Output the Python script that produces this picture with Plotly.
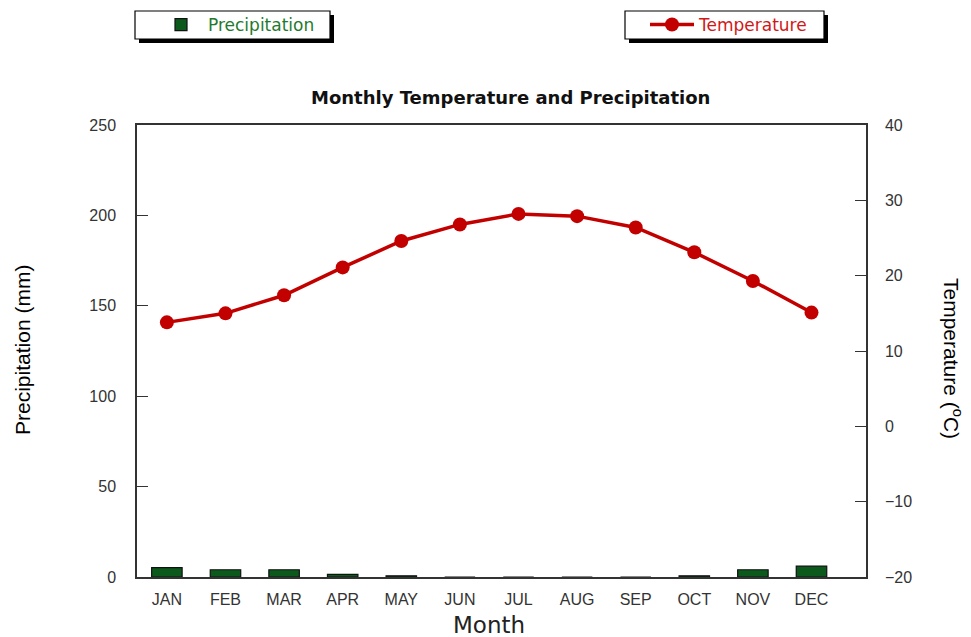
import plotly.graph_objects as go

months = ["JAN", "FEB", "MAR", "APR", "MAY", "JUN", "JUL", "AUG", "SEP", "OCT", "NOV", "DEC"]
precipitation_mm = [5.2, 4.0, 4.0, 1.5, 0.7, 0.0, 0.0, 0.0, 0.0, 0.7, 4.0, 6.0]
temperature_c = [13.8, 15.0, 17.4, 21.1, 24.6, 26.8, 28.2, 27.9, 26.4, 23.1, 19.3, 15.1]
precip_ticks = [0, 50, 100, 150, 200, 250]
temp_ticks = [-20, -10, 0, 10, 20, 30, 40]

# page body has an 8px margin; work in screenshot pixels and shift
OFF = 8
W, H = 971 - OFF, 637 - OFF
L, R, T, B = 137 - OFF, 866 - OFF, 125 - OFF, 577 - OFF

def px(x):
    return (x - OFF - L) / (R - L)

def py(y):
    return (B - (y - OFF)) / (B - T)

FONT = "DejaVu Sans"
TICKFONT = "Liberation Sans"
AX = "#333333"

fig = go.Figure()
fig.add_trace(go.Bar(
    x=months, y=precipitation_mm, name="Precipitation",
    marker=dict(color="#0b5a1c", line=dict(color="#111111", width=1.2)),
    width=0.52, legend="legend",
))
fig.add_trace(go.Scatter(
    x=months, y=temperature_c, name="Temperature", yaxis="y2",
    mode="lines+markers",
    line=dict(color="#c20000", width=3.5),
    marker=dict(color="#c20000", size=14, symbol="circle"),
    legend="legend2",
))

shapes = []
for (x0, x1) in [(135, 330), (625, 824)]:
    shapes.append(dict(type="rect", xref="paper", yref="paper",
                       x0=px(x0 + 4), x1=px(x1 + 4), y0=py(39 + 4), y1=py(11 + 4),
                       fillcolor="#000000", line=dict(width=0), layer="above"))
    shapes.append(dict(type="rect", xref="paper", yref="paper",
                       x0=px(x0), x1=px(x1), y0=py(39), y1=py(11),
                       fillcolor="#ffffff", line=dict(color="#000000", width=1.2), layer="above"))

annotations = [
    dict(text="<b>Monthly Temperature and Precipitation</b>", xref="paper", yref="paper",
         x=px(510), y=py(98), xanchor="center", yanchor="middle", showarrow=False,
         font=dict(family=FONT, size=18, color="#111111")),
    dict(text="Precipitation (mm)", xref="paper", yref="paper",
         x=px(22), y=py(350), xanchor="center", yanchor="middle", showarrow=False,
         textangle=-90, font=dict(family="Liberation Sans", size=21, color="#000000")),
    dict(text="Temperature (<sup>o</sup>C)", xref="paper", yref="paper",
         x=px(953), y=py(358), xanchor="center", yanchor="middle", showarrow=False,
         textangle=90, font=dict(family="Liberation Sans", size=21, color="#000000")),
    dict(text="Month", xref="paper", yref="paper",
         x=px(489), y=py(625), xanchor="center", yanchor="middle", showarrow=False,
         font=dict(family=FONT, size=23, color="#222222")),
]

fig.update_layout(
    width=W, height=H,
    margin=dict(l=L, r=W - R, t=T, b=H - B, autoexpand=False),
    paper_bgcolor="#ffffff", plot_bgcolor="#ffffff",
    showlegend=True,
    legend=dict(xref="container", yref="container", x=(154 - OFF) / W, y=1 - (25 - OFF) / H,
                xanchor="left", yanchor="middle", bgcolor="rgba(0,0,0,0)", itemwidth=44,
                borderwidth=0, font=dict(family=FONT, size=17, color="#1f7a2e")),
    legend2=dict(xref="container", yref="container", x=(645 - OFF) / W, y=1 - (25 - OFF) / H,
                 xanchor="left", yanchor="middle", bgcolor="rgba(0,0,0,0)", itemwidth=44,
                 borderwidth=0, font=dict(family=FONT, size=17, color="#d01818")),
    xaxis=dict(type="category", categoryorder="array", categoryarray=months,
               range=[-0.51, 11.93], showgrid=False, ticks="",
               showline=True, linecolor=AX, linewidth=1.5, mirror=True,
               tickfont=dict(family=TICKFONT, size=16, color=AX), ticklabelstandoff=7),
    yaxis=dict(range=[0, 250], tickvals=precip_ticks, showgrid=False, zeroline=False,
               ticks="inside", ticklen=11, tickwidth=1.2, tickcolor=AX,
               showline=True, linecolor=AX, linewidth=1.5,
               tickfont=dict(family=TICKFONT, size=16, color=AX), ticklabelstandoff=16),
    yaxis2=dict(range=[-20, 40], tickvals=temp_ticks, overlaying="y", side="right",
                showgrid=False, zeroline=False,
                ticks="inside", ticklen=11, tickwidth=1.2, tickcolor=AX,
                showline=True, linecolor=AX, linewidth=1.5,
                tickfont=dict(family=TICKFONT, size=16, color=AX), ticklabelstandoff=14),
    shapes=shapes,
    annotations=annotations,
)

fig.write_html("out.html")
